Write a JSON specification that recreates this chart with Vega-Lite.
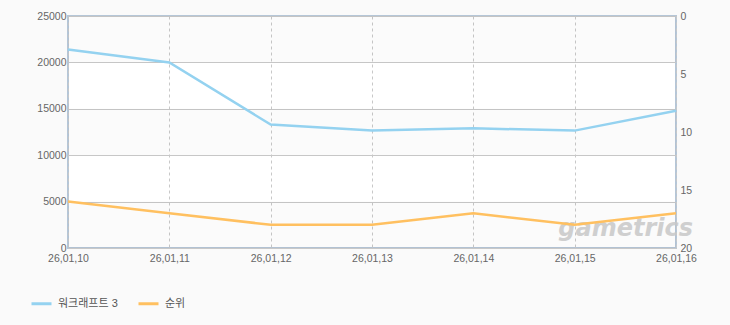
{
  "$schema": "https://vega.github.io/schema/vega-lite/v6.json",
  "width": 608,
  "height": 232,
  "autosize": {"type": "none"},
  "padding": {"left": 68, "top": 16, "right": 54, "bottom": 77},
  "background": "#fafafa",
  "config": {
    "view": {"fill": "#ffffff", "stroke": "#b5c6d7", "strokeWidth": 2},
    "font": "Liberation Sans",
    "axis": {"labelFont": "Liberation Sans", "labelFontSize": 10.5, "labelColor": "#666666", "tickSize": 0, "domain": false, "title": null}
  },
  "datasets": {
    "main": [
      {"date": "26,01,10", "users": 21400, "rank": 16},
      {"date": "26,01,11", "users": 20000, "rank": 17},
      {"date": "26,01,12", "users": 13300, "rank": 18},
      {"date": "26,01,13", "users": 12650, "rank": 18},
      {"date": "26,01,14", "users": 12900, "rank": 17},
      {"date": "26,01,15", "users": 12650, "rank": 18},
      {"date": "26,01,16", "users": 14800, "rank": 17}
    ],
    "bands": [
      {"lo": 0, "hi": 5000},
      {"lo": 10000, "hi": 15000},
      {"lo": 20000, "hi": 25000}
    ]
  },
  "layer": [
    {
      "data": {"name": "bands"},
      "mark": {"type": "rect", "fill": "#000000", "opacity": 0.014},
      "encoding": {
        "y": {"field": "lo", "type": "quantitative", "scale": {"domain": [0, 25000], "nice": false}, "axis": null},
        "y2": {"field": "hi"}
      }
    },
    {
      "data": {"name": "main"},
      "mark": {"type": "line", "stroke": "#94d2f0", "strokeWidth": 2.5},
      "encoding": {
        "x": {"field": "date", "type": "ordinal", "scale": {"type": "point", "padding": 0},
              "axis": {"labelAngle": 0, "labelAlign": "center", "labelPadding": 5, "grid": true, "gridColor": "#c8c8c8", "gridDash": [3, 3], "gridWidth": 1}},
        "y": {"field": "users", "type": "quantitative", "scale": {"domain": [0, 25000], "nice": false},
              "axis": {"values": [0, 5000, 10000, 15000, 20000, 25000], "grid": true, "gridColor": "#c8c8c8", "gridWidth": 1, "labelPadding": 2, "format": "d"}},
        "color": {"datum": "워크래프트 3", "type": "nominal",
                  "scale": {"domain": ["워크래프트 3", "순위"], "range": ["#94d2f0", "#ffc060"]},
                  "legend": {"orient": "none", "legendX": -38, "legendY": 276, "direction": "horizontal", "title": null,
                             "symbolType": "stroke", "symbolSize": 400, "symbolStrokeWidth": 3,
                             "labelFont": "Liberation Sans, Noto Sans CJK KR", "labelFontSize": 11, "labelColor": "#555555",
                             "labelOffset": 5, "columnPadding": 14}}
      }
    },
    {
      "data": {"values": [{"label": "gametrics"}]},
      "mark": {"type": "text", "font": "DejaVu Sans", "fontSize": 24, "fontWeight": "bold", "fontStyle": "italic", "fill": "#c8c8c8", "opacity": 0.85, "dx": 51, "align": "center", "baseline": "middle"},
      "encoding": {
        "text": {"field": "label"},
        "x": {"datum": "26,01,15", "type": "ordinal"},
        "y": {"datum": 2000, "type": "quantitative", "scale": {"domain": [0, 25000], "nice": false}, "axis": null}
      }
    },
    {
      "data": {"name": "main"},
      "mark": {"type": "line", "stroke": "#ffc060", "strokeWidth": 2.5},
      "encoding": {
        "x": {"field": "date", "type": "ordinal"},
        "y": {"field": "rank", "type": "quantitative", "scale": {"domain": [0, 20], "reverse": true, "nice": false},
              "axis": {"orient": "right", "values": [0, 5, 10, 15, 20], "grid": false, "labelPadding": 4}},
        "color": {"datum": "순위", "type": "nominal"}
      }
    }
  ],
  "resolve": {"scale": {"y": "independent"}}
}
